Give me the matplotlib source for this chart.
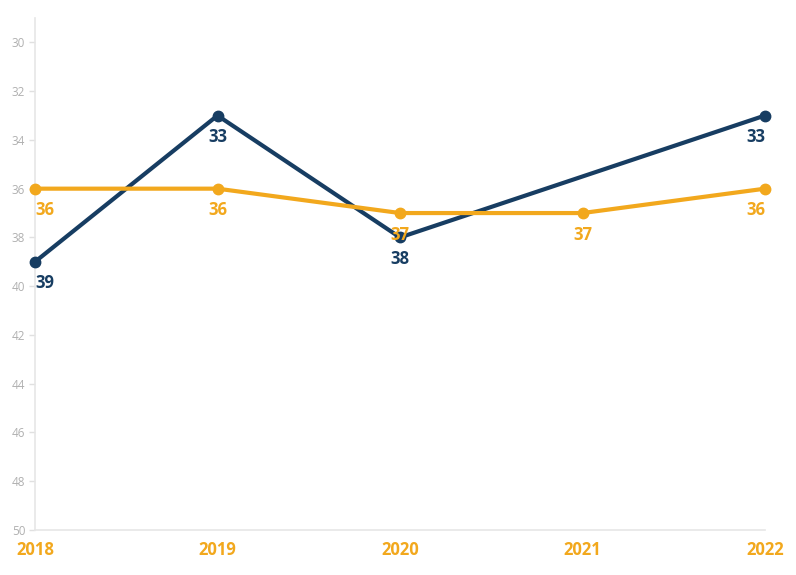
import matplotlib
matplotlib.use("Agg")
import matplotlib.pyplot as plt
import numpy as np

years = ["2018", "2019", "2020", "2021", "2022"]
blue_vals = [39, 33, 38, np.nan, 33]
orange_vals = [36, 36, 37, 37, 36]
y_ticks = [30, 32, 34, 36, 38, 40, 42, 44, 46, 48, 50]

BLUE = "#173d62"
ORANGE = "#f2a81d"

plt.rcParams['font.family'] = ['Open Sans', 'DejaVu Sans']

fig = plt.figure(figsize=(7.96, 5.75), dpi=100)
ax = fig.add_axes([35/796, 45/575, 730/796, 512/575])

x = np.arange(len(years))
b = np.array(blue_vals, dtype=float)
mb = ~np.isnan(b)
ax.plot(x[mb], b[mb], color=BLUE, lw=3, marker='o', ms=7.5, zorder=3, clip_on=False)
ax.plot(x, orange_vals, color=ORANGE, lw=3, marker='o', ms=7.5, zorder=4, clip_on=False)

def ha_for(i):
    if i == 0:
        return 'left'
    if i == len(years) - 1:
        return 'right'
    return 'center'

for i, v in enumerate(b):
    if not np.isnan(v):
        ax.annotate(f"{int(v)}", (x[i], v), xytext=(0, -9), textcoords='offset points',
                    ha=ha_for(i), va='top', color=BLUE, fontsize=12, fontweight='bold', zorder=5)
for i, v in enumerate(orange_vals):
    ax.annotate(f"{int(v)}", (x[i], v), xytext=(0, -9), textcoords='offset points',
                ha=ha_for(i), va='top', color=ORANGE, fontsize=12, fontweight='bold', zorder=5)

ax.set_xlim(0, len(years) - 1)
ax.set_ylim(50, 29)
ax.set_yticks(y_ticks)
ax.set_yticklabels([str(t) for t in y_ticks])
ax.set_xticks(x)
ax.set_xticklabels(years)

for s in ['top', 'right']:
    ax.spines[s].set_visible(False)
for s in ['left', 'bottom']:
    ax.spines[s].set_color('#e6e6e6')
    ax.spines[s].set_linewidth(1.2)

ax.tick_params(axis='y', colors='#e0e0e0', labelcolor='#b0b0b0', labelsize=8.5, length=4, width=1, pad=3)
ax.tick_params(axis='x', length=0, labelcolor=ORANGE, labelsize=12, pad=8)
for lbl in ax.get_xticklabels():
    lbl.set_fontweight('bold')

fig.savefig("out.png", dpi=100)
